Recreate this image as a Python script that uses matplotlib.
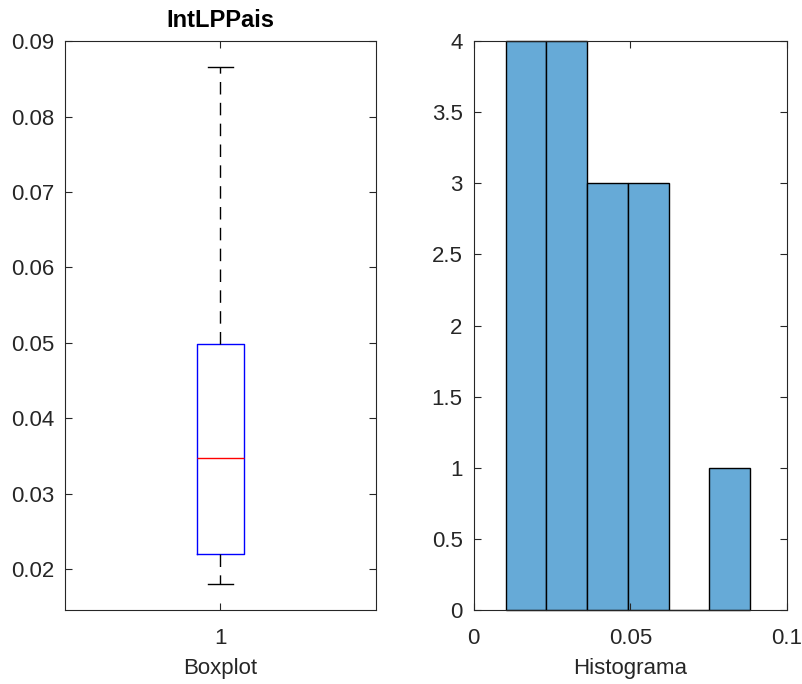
import matplotlib
matplotlib.use("Agg")
import matplotlib.pyplot as plt
import numpy as np

plt.rcParams["font.family"] = ["Liberation Sans", "DejaVu Sans"]

# boxplot summary
box_stats = dict(med=0.0347, q1=0.0221, q3=0.0498, whislo=0.0180, whishi=0.0866, label="1")

# histogram bins and counts
bin_edges = [0.0102, 0.0232, 0.0362, 0.0492, 0.0622, 0.0752, 0.0882]
counts = [4, 4, 3, 3, 0, 1]

INK = "#262626"

fig = plt.figure(figsize=(8.03, 6.84), dpi=100)
ax1 = fig.add_axes([0.081, 0.108, 0.387, 0.832])
ax2 = fig.add_axes([0.590, 0.108, 0.390, 0.832])

for ax in (ax1, ax2):
    ax.tick_params(direction="in", length=5, width=0.8, colors=INK,
                   labelsize=16, top=True, right=True, pad=8)
    ax.tick_params(axis="x", pad=13)
    for s in ax.spines.values():
        s.set_color(INK)
        s.set_linewidth(0.8)

# left: boxplot
ax1.bxp([box_stats], positions=[1], widths=0.15, showfliers=False,
        boxprops=dict(color="blue", linewidth=1),
        medianprops=dict(color="red", linewidth=1),
        whiskerprops=dict(color="black", linewidth=1, linestyle=(0, (9, 6))),
        capprops=dict(color="black", linewidth=1), capwidths=0.08)
ax1.set_xlim(0.5, 1.5)
ax1.set_ylim(0.0146, 0.09)
ax1.set_yticks(np.arange(0.02, 0.0901, 0.01))
ax1.set_yticklabels([f"{v:.2f}" for v in np.arange(0.02, 0.0901, 0.01)])
ax1.set_xlabel("Boxplot", fontsize=16, color=INK, labelpad=6)
ax1.set_title("IntLPPais", fontsize=17, fontweight="bold", pad=10)

# right: histogram
edges = np.array(bin_edges)
bars = ax2.bar(edges[:-1], counts, width=np.diff(edges), align="edge",
               color="#66aad7", edgecolor="black", linewidth=1)
for b in bars:
    b.set_clip_on(False)
ax2.set_xlim(0, 0.1)
ax2.set_ylim(0, 4)
ax2.set_xticks([0, 0.05, 0.1])
ax2.set_xticklabels(["0", "0.05", "0.1"])
ax2.set_yticks(np.arange(0, 4.01, 0.5))
ax2.set_yticklabels(["0", "0.5", "1", "1.5", "2", "2.5", "3", "3.5", "4"])
ax2.set_xlabel("Histograma", fontsize=16, color=INK, labelpad=6)

fig.savefig("out.png")
